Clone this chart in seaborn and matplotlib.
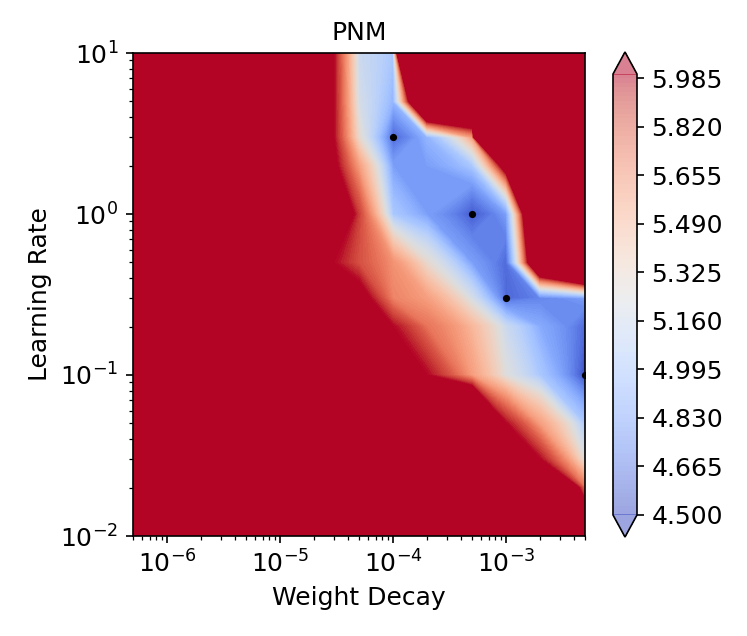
import numpy as np
import pandas as pd
import matplotlib
matplotlib.use("Agg")
import matplotlib.pyplot as plt
import seaborn as sns

# grid of the sweep
weight_decay = [5e-7, 1e-6, 5e-6, 1e-5, 3e-5, 5e-5, 1e-4, 2e-4, 5e-4, 1e-3, 2e-3, 5e-3]
learning_rate = [0.01, 0.02, 0.03, 0.05, 0.1, 0.2, 0.3, 0.5, 1, 2, 3, 5, 10]

# final loss, one row per learning rate (diverged runs kept as large values)
loss_lr_0_01 = [8, 8, 8, 8, 8, 8, 8, 8, 8, 8, 8, 6.5]
loss_lr_0_02 = [8, 8, 8, 8, 8, 8, 8, 8, 8, 8, 7, 5.75]
loss_lr_0_03 = [8, 8, 8, 8, 8, 8, 8, 8, 8, 7, 6.0, 5.25]
loss_lr_0_05 = [8, 8, 8, 8, 8, 8, 8, 7, 7.0, 6.0, 5.6, 5.0]
loss_lr_0_1 = [8, 8, 8, 8, 8, 8, 7, 6.0, 5.6, 5.25, 5.0, 4.5]
loss_lr_0_2 = [8, 8, 8, 8, 8, 6.5, 6.0, 5.75, 5.5, 5.15, 4.85, 4.6]
loss_lr_0_3 = [8, 8, 8, 8, 7.0, 6.1, 5.7, 5.6, 5.2, 4.6, 4.7, 4.8]
loss_lr_0_5 = [8, 8, 8, 7, 6.0, 5.85, 5.65, 5.3, 4.8, 4.6, 7.1, 8.4]
loss_lr_1 = [8, 8, 8, 7, 6.3, 5.9, 5.0, 4.8, 4.55, 4.8, 7.7, 10]
loss_lr_2 = [8, 8, 8, 7, 6.05, 5.6, 4.8, 4.8, 5.0, 6.3, 10, 10]
loss_lr_3 = [8, 8, 8, 7, 6.0, 5.3, 4.6, 4.9, 5.6, 15, 15, 15]
loss_lr_5 = [8, 8, 8, 7, 6.0, 5.2, 4.9, 7.8, 7.5, 12, 12, 12]
loss_lr_10 = [8, 8, 8, 7, 6.0, 5.15, 5.0, 17, 12, 12, 12, 12]

# best learning rate for each weight decay
best_wd = [1e-4, 5e-4, 1e-3, 5e-3]
best_lr = [3, 1, 0.3, 0.1]

Z = np.array([loss_lr_0_01, loss_lr_0_02, loss_lr_0_03, loss_lr_0_05, loss_lr_0_1,
              loss_lr_0_2, loss_lr_0_3, loss_lr_0_5, loss_lr_1, loss_lr_2,
              loss_lr_3, loss_lr_5, loss_lr_10])
levels = np.linspace(4.5, 6.0, 101)

sns.set_style("ticks", rc={"text.color": "black", "axes.labelcolor": "black",
                           "xtick.color": "black", "ytick.color": "black",
                           "axes.edgecolor": "black"})
plt.rcParams['font.family'] = ['DejaVu Sans']
plt.rcParams['font.size'] = 12

fig = plt.figure(figsize=(747 / 150, 636 / 150), dpi=150)
ax = fig.add_axes([133 / 747, 1 - 536 / 636, 452 / 747, 483 / 636])
cax = fig.add_axes([613 / 747, 1 - 537 / 636, 24 / 747, 485 / 636])

X, Y = np.meshgrid(weight_decay, learning_rate)
cs_bar = ax.contourf(X, Y, Z, levels=levels, cmap="coolwarm", extend="both", alpha=0.5)
ax.contourf(X, Y, Z, levels=levels, cmap="coolwarm", extend="both")

best = pd.DataFrame({"wd": best_wd, "lr": best_lr})
sns.scatterplot(data=best, x="wd", y="lr", color="black", s=12, ax=ax, zorder=5,
                edgecolor="black", linewidth=0)

ax.set_xscale("log")
ax.set_yscale("log")
ax.set_xlim(5e-7, 5e-3)
ax.set_ylim(1e-2, 10)
ax.set_xlabel("Weight Decay", fontsize=12)
ax.set_ylabel("Learning Rate", fontsize=12)
ax.set_title("PNM", fontsize=12)
ax.tick_params(which="major", labelsize=12, length=3.5)
ax.tick_params(which="minor", length=2)

cbar = fig.colorbar(cs_bar, cax=cax, format="%.3f")
cbar.ax.tick_params(labelsize=12, length=3.5)

fig.savefig("out.png", dpi=150)
